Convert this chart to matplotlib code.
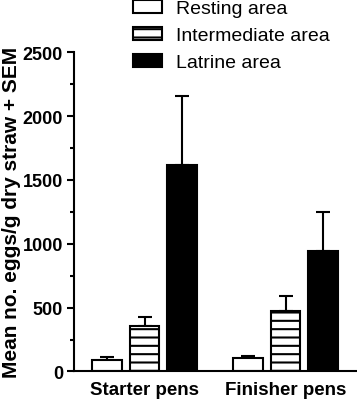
import matplotlib.pyplot as plt
from matplotlib.ticker import MultipleLocator
import numpy as np

plt.rcParams['font.family'] = ['Liberation Sans', 'DejaVu Sans']
plt.rcParams['hatch.linewidth'] = 1.5

groups = ['Starter pens', 'Finisher pens']
series = ['Resting area', 'Intermediate area', 'Latrine area']
resting = [88, 103]
resting_sem = [23, 21]
intermediate = [359, 471]
intermediate_sem = [70, 123]
latrine = [1617, 946]
latrine_sem = [543, 301]

values = [resting, intermediate, latrine]
sems = [resting_sem, intermediate_sem, latrine_sem]
faces = ['white', 'white', 'black']
hatches = [None, '--', None]

fig = plt.figure(figsize=(3.57, 4.02), dpi=100)
ax = fig.add_axes([0.2073, 0.0734, 0.79, 0.794])

x = np.arange(len(groups))
step = 0.267
width = 0.209
handles = []
for i in range(3):
    pos = x + (i - 1) * step
    ax.errorbar(pos, values[i], yerr=[np.zeros(len(pos)), sems[i]], fmt='none',
                ecolor='black', elinewidth=1.5, capsize=5, capthick=1.5, zorder=1)
    b = ax.bar(pos, values[i], width, color=faces[i], edgecolor='black',
               linewidth=1.5, hatch=hatches[i], zorder=2, label=series[i])
    handles.append(b)

ax.set_xlim(-0.5, 1.5)
ax.set_ylim(0, 2500)
ax.yaxis.set_major_locator(MultipleLocator(500))
ax.yaxis.set_minor_locator(MultipleLocator(250))
ax.set_xticks(x)
ax.set_xticklabels(groups, fontsize=13.5, fontweight='bold')
ax.tick_params(axis='x', length=0, pad=7)
ax.tick_params(axis='y', which='major', length=5, width=1.5, pad=3, labelsize=13)
ax.tick_params(axis='y', which='minor', length=3, width=1.5)
for lab in ax.get_yticklabels():
    lab.set_fontweight('bold')
ax.spines['top'].set_visible(False)
ax.spines['right'].set_visible(False)
ax.spines['left'].set_linewidth(1.5)
ax.spines['bottom'].set_linewidth(1.5)
ax.set_ylabel('Mean no. eggs/g dry straw + SEM', fontsize=15, fontweight='bold', labelpad=1)

fig.legend(handles=handles, loc='upper left', bbox_to_anchor=(0.345, 1.022), frameon=False,
           fontsize=14, handlelength=1.5, handleheight=0.65, handletextpad=0.7,
           labelspacing=0.5, borderpad=0)

fig.savefig('out.png', dpi=100)
